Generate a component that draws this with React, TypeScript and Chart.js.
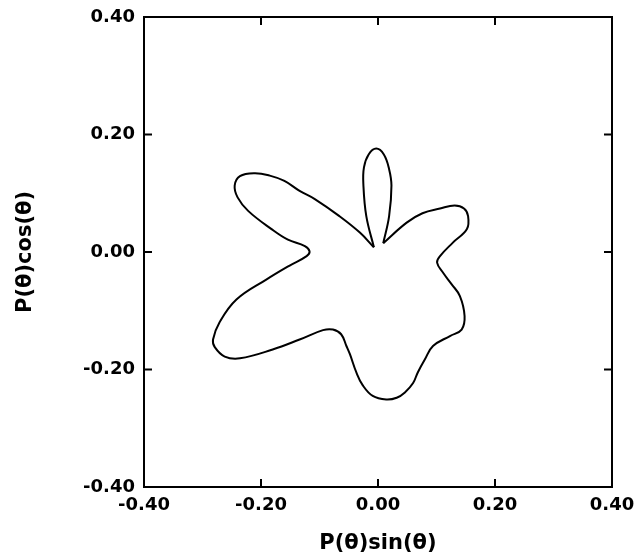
import React, { useEffect, useRef } from 'react';
import { Chart, registerables } from 'chart.js';

Chart.register(...registerables);

// Narrow upper petal (from cusp A up and back down to cusp B)
const petalX = [-0.007, -0.020, -0.025, -0.024, -0.016, -0.003, 0.010, 0.019, 0.023, 0.019, 0.009];
const petalY = [0.008, 0.061, 0.115, 0.144, 0.166, 0.176, 0.166, 0.141, 0.113, 0.061, 0.015];

// Main loop (from cusp B clockwise round to cusp A)
const loopX = [
  0.009, 0.049, 0.076, 0.106, 0.131, 0.147, 0.154, 0.152, 0.128, 0.106,
  0.101, 0.111, 0.126, 0.140, 0.148, 0.143, 0.123, 0.094, 0.080, 0.068,
  0.060, 0.046, 0.032, 0.014, -0.009, -0.026, -0.037, -0.048, -0.054, -0.063,
  -0.077, -0.094, -0.134, -0.180, -0.236, -0.262, -0.279, -0.282, -0.271, -0.242,
  -0.191, -0.151, -0.122, -0.117, -0.125, -0.154, -0.182, -0.222, -0.240, -0.245,
  -0.236, -0.211, -0.185, -0.160, -0.134, -0.108, -0.066, -0.031, -0.007,
];
const loopY = [
  0.015, 0.050, 0.066, 0.074, 0.079, 0.074, 0.061, 0.039, 0.016, -0.007,
  -0.018, -0.035, -0.055, -0.075, -0.109, -0.132, -0.143, -0.160, -0.183, -0.205,
  -0.223, -0.239, -0.248, -0.251, -0.245, -0.227, -0.205, -0.174, -0.160, -0.140,
  -0.132, -0.133, -0.149, -0.166, -0.181, -0.178, -0.162, -0.149, -0.120, -0.081,
  -0.047, -0.023, -0.007, 0.001, 0.010, 0.021, 0.039, 0.070, 0.093, 0.113,
  0.129, 0.134, 0.130, 0.121, 0.104, 0.090, 0.061, 0.033, 0.008,
];

const xTickLabels = ['-0.40', '-0.20', '0.00', '0.20', '0.40'];
const yTickLabels = ['-0.40', '-0.20', '0.00', '0.20', '0.40'];
const axisMin = -0.4;
const axisMax = 0.4;
const axisStep = 0.2;
const xTitle = 'P(θ)sin(θ)';
const yTitle = 'P(θ)cos(θ)';

const FONT = 'DejaVu Sans';

const framePlugin = {
  id: 'frameTicks',
  afterDatasetsDraw(chart: any) {
    const { ctx, chartArea, scales } = chart;
    const { left, right, top, bottom } = chartArea;
    const L = 8;
    ctx.save();
    ctx.strokeStyle = '#000';
    ctx.lineWidth = 2;
    ctx.strokeRect(left, top, right - left, bottom - top);
    ctx.beginPath();
    scales.x.ticks.forEach((t: any) => {
      const px = scales.x.getPixelForValue(t.value);
      ctx.moveTo(px, bottom);
      ctx.lineTo(px, bottom - L);
      ctx.moveTo(px, top);
      ctx.lineTo(px, top + L);
    });
    scales.y.ticks.forEach((t: any) => {
      const py = scales.y.getPixelForValue(t.value);
      ctx.moveTo(left, py);
      ctx.lineTo(left + L, py);
      ctx.moveTo(right, py);
      ctx.lineTo(right - L, py);
    });
    ctx.stroke();
    ctx.restore();
  },
};

export default function App() {
  const ref = useRef<HTMLCanvasElement | null>(null);

  useEffect(() => {
    if (!ref.current) return;
    const toPts = (xs: number[], ys: number[]) => xs.map((x, i) => ({ x, y: ys[i] }));
    const lineStyle = {
      showLine: true,
      borderColor: '#000',
      borderWidth: 2,
      pointRadius: 0,
      tension: 0.4,
      fill: false,
    };
    const chart = new Chart(ref.current, {
      type: 'scatter',
      data: {
        datasets: [
          { data: toPts(loopX, loopY), ...lineStyle },
          { data: toPts(petalX, petalY), ...lineStyle },
        ],
      },
      options: {
        animation: false,
        responsive: false,
        layout: { padding: { top: 17, right: 24, left: 0, bottom: 0 } },
        plugins: { legend: { display: false }, tooltip: { enabled: false } },
        scales: {
          x: {
            type: 'linear',
            position: 'bottom',
            min: axisMin,
            max: axisMax,
            grid: { display: false, drawTicks: false },
            border: { display: false },
            ticks: {
              stepSize: axisStep,
              padding: 8,
              color: '#000',
              autoSkip: false,
              maxRotation: 0,
              font: { family: FONT, weight: 'bold', size: 18 },
              callback: (v: any) => xTickLabels[Math.round((Number(v) - axisMin) / axisStep)],
            },
            title: {
              display: true,
              text: xTitle,
              color: '#000',
              font: { family: FONT, weight: 'bold', size: 21 },
              padding: { top: 0, bottom: 0 },
            },
            afterFit: (s: any) => {
              s.height = 69;
              s.paddingLeft = 20;
              s.paddingRight = 20;
            },
          },
          y: {
            type: 'linear',
            position: 'left',
            min: axisMin,
            max: axisMax,
            grid: { display: false, drawTicks: false },
            border: { display: false },
            ticks: {
              stepSize: axisStep,
              padding: 9,
              color: '#000',
              autoSkip: false,
              font: { family: FONT, weight: 'bold', size: 18 },
              callback: (v: any) => yTickLabels[Math.round((Number(v) - axisMin) / axisStep)],
            },
            title: {
              display: true,
              text: yTitle,
              color: '#000',
              font: { family: FONT, weight: 'bold', size: 21 },
              padding: { top: 13, bottom: 0 },
            },
            afterFit: (s: any) => {
              s.width = 144;
              s.paddingTop = 10;
              s.paddingBottom = 10;
            },
          },
        },
      },
      plugins: [framePlugin],
    } as any);
    return () => chart.destroy();
  }, []);

  return (
    <div style={{ position: 'absolute', left: 0, top: 0, width: 636, height: 556, background: '#fff' }}>
      <canvas ref={ref} width={636} height={556} style={{ display: 'block' }} />
    </div>
  );
}
